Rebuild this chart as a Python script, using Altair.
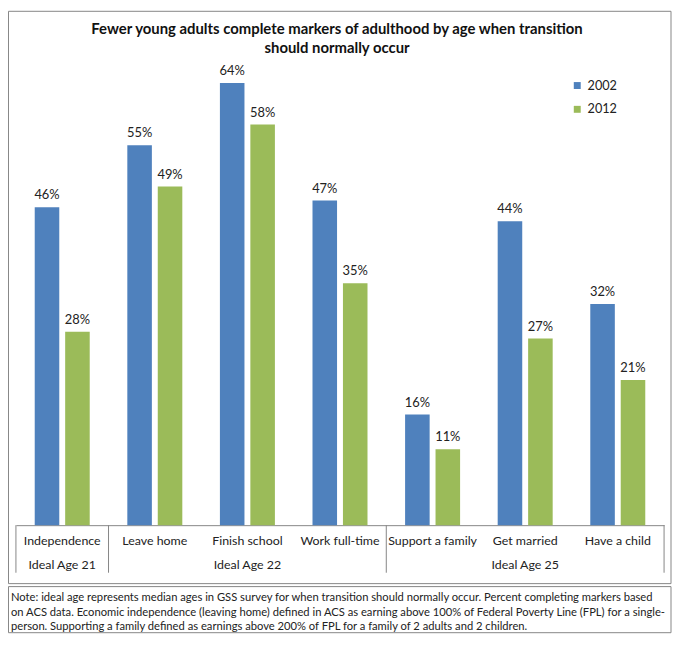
import altair as alt
import pandas as pd

categories = ["Independence", "Leave home", "Finish school", "Work full-time",
              "Support a family", "Get married", "Have a child"]
years = ["2002", "2012"]
values_2002 = [46, 55, 64, 47, 16, 44, 32]
values_2012 = [28, 49, 58, 35, 11, 27, 21]
colors = ["#4F81BD", "#9BBB59"]

group_labels = ["Ideal Age 21", "Ideal Age 22", "Ideal Age 25"]
group_centers = ["Independence", "Finish school", "Get married"]
group_starts = ["Independence", "Leave home", "Support a family"]
group_end = ["Have a child"]

title_lines = ["Fewer young adults complete markers of adulthood by age when transition",
               "should normally occur"]
note_lines = [
    "Note: ideal age represents median ages in GSS survey for when transition should normally occur. Percent completing markers based",
    "on ACS data. Economic independence (leaving home) defined in ACS as earning above 100% of Federal Poverty Line (FPL) for a single-",
    "person. Supporting a family defined as earnings above 200% of FPL for a family of 2 adults and 2 children.",
]

W, H = 654, 488
FONT = "Lato"
TXT = "#222222"
GRAY = "#868686"

rows = []
for c, a, b in zip(categories, values_2002, values_2012):
    rows.append({"cat": c, "year": years[0], "value": a})
    rows.append({"cat": c, "year": years[1], "value": b})
bars_df = pd.DataFrame(rows)

x_enc = alt.X("cat:N", sort=categories,
              scale=alt.Scale(paddingInner=0, paddingOuter=0),
              axis=alt.Axis(title=None, labelAngle=0, ticks=False, domainColor=GRAY,
                            labelFont=FONT, labelFontSize=12.5, labelColor=TXT,
                            labelPadding=10, grid=False))
xo_enc = alt.XOffset("year:N", sort=years,
                     scale=alt.Scale(paddingInner=0.1935, paddingOuter=0.6175))
y_enc = alt.Y("value:Q", scale=alt.Scale(domain=[0, 70], nice=False, zero=True), axis=None)

bars = alt.Chart(bars_df).mark_bar().encode(
    x=x_enc,
    xOffset=xo_enc,
    y=y_enc,
    color=alt.Color("year:N", sort=years,
                    scale=alt.Scale(domain=years, range=colors),
                    legend=alt.Legend(title=None, orient="none", legendX=560, legendY=38,
                                      symbolType="square", symbolSize=49, symbolStrokeWidth=0,
                                      labelFont=FONT, labelFontSize=12.8, labelColor=TXT,
                                      rowPadding=10, padding=0, labelOffset=4)),
)

labels = alt.Chart(bars_df).transform_calculate(
    label="datum.value + '%'"
).mark_text(font=FONT, fontSize=13, color=TXT, baseline="middle", dy=-12).encode(
    x=alt.X("cat:N", sort=categories, title=None),
    xOffset=alt.XOffset("year:N", sort=years),
    y=alt.Y("value:Q"),
    text="label:N",
)

sep_df = pd.DataFrame({"cat": group_starts})
seps = alt.Chart(sep_df).mark_rule(color=GRAY, strokeWidth=1).encode(
    x=alt.X("cat:N", sort=categories, bandPosition=0, title=None),
    y=alt.value(H),
    y2=alt.value(H + 48),
)
end_df = pd.DataFrame({"cat": group_end})
sep_end = alt.Chart(end_df).mark_rule(color=GRAY, strokeWidth=1).encode(
    x=alt.X("cat:N", sort=categories, bandPosition=1, title=None),
    y=alt.value(H),
    y2=alt.value(H + 48),
)

grp_df = pd.DataFrame({"cat": group_centers, "label": group_labels})
groups = alt.Chart(grp_df).mark_text(font=FONT, fontSize=12.5, color=TXT, baseline="middle").encode(
    x=alt.X("cat:N", sort=categories, title=None),
    y=alt.value(H + 40),
    text="label:N",
)

one = pd.DataFrame({"k": [0]})
title = alt.Chart(one).mark_text(font=FONT, fontSize=15, fontWeight="bold", color="#111111",
                                 align="center", baseline="middle", lineHeight=20).encode(
    x=alt.value(324), y=alt.value(-13), text=alt.value(title_lines))

border = alt.Chart(one).mark_rect(fillOpacity=0, stroke=GRAY, strokeWidth=1).encode(
    x=alt.value(-7.5), x2=alt.value(661), y=alt.value(-30.5), y2=alt.value(547))
note_box = alt.Chart(one).mark_rect(fillOpacity=0, stroke=GRAY, strokeWidth=1).encode(
    x=alt.value(-7.5), x2=alt.value(661), y=alt.value(550), y2=alt.value(596.5))
note = alt.Chart(one).mark_text(font=FONT, fontSize=11.3, color=TXT, align="left",
                                baseline="middle", lineHeight=14.5).encode(
    x=alt.value(-5), y=alt.value(562), text=alt.value(note_lines))

chart = alt.layer(border, note_box, bars, labels, seps, sep_end, groups, title, note).properties(
    width=W, height=H, background="white", padding=0
).configure_view(stroke="transparent")

chart.save("out.html", embed_options={"renderer": "svg", "actions": False})
